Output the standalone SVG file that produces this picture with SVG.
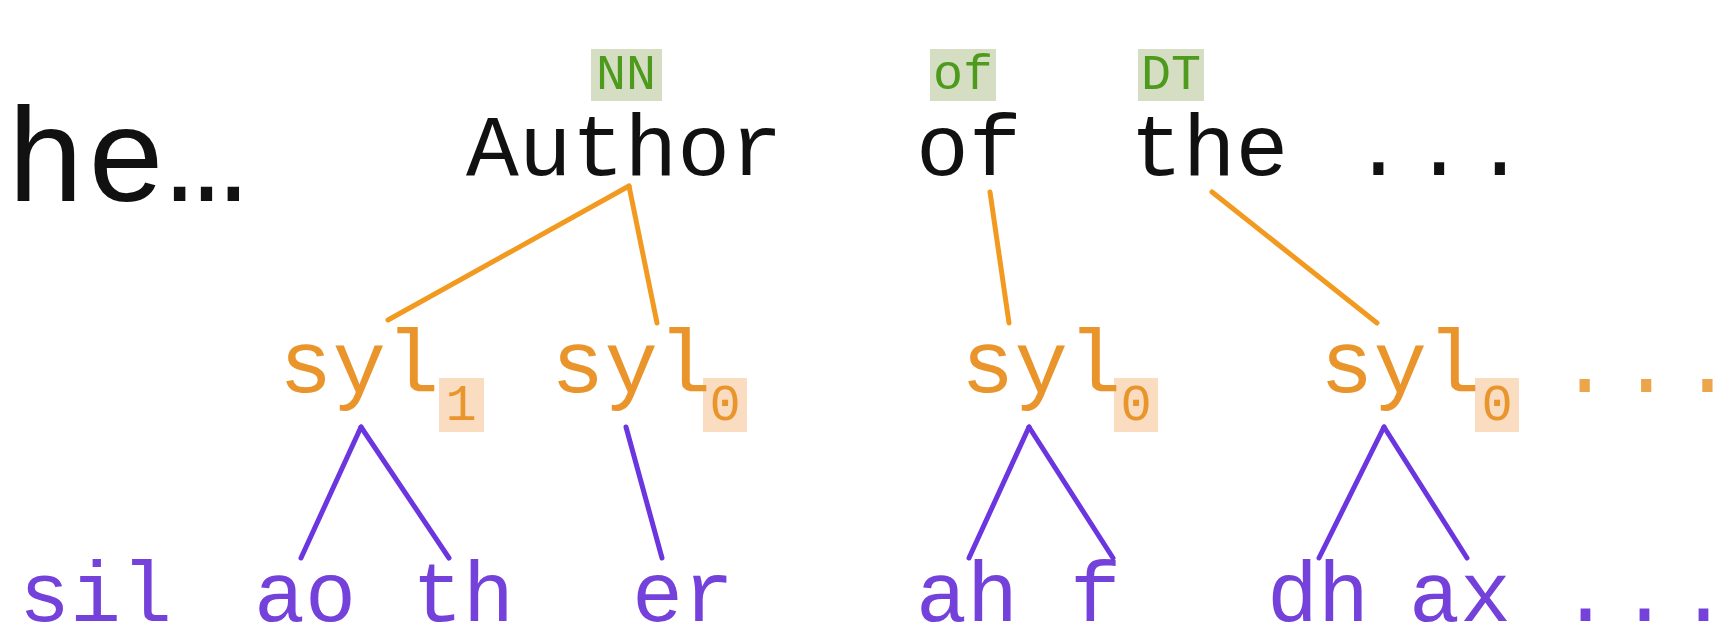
<svg xmlns="http://www.w3.org/2000/svg" width="1716" height="632" viewBox="0 0 1716 632">
  <style>
    .mono { font-family: "Liberation Mono", "DejaVu Sans Mono", monospace; }
    .word { font-size: 88px; fill: #111111; }
    .tag { font-size: 50px; fill: #4E9A1C; text-anchor: middle; }
    .tagbox { fill: #D5DEC2; }
    .syl { font-size: 89px; fill: #E9952C; }
    .sub { font-size: 52px; fill: #E9952C; text-anchor: middle; }
    .subbox { fill: #FADCC0; }
    .ph { font-size: 85px; fill: #7441DA; }
    .dots { letter-spacing: 8px; }
    .orange { stroke: #F29A1F; stroke-width: 5; stroke-linecap: round; fill: none; }
    .purple { stroke: #6B35E0; stroke-width: 5; stroke-linecap: round; fill: none; }
  </style>
  <rect width="1716" height="632" fill="#FFFFFF"/>

  <!-- large running text, clipped at the left edge -->
  <text id="caption" class="mono" x="-75" y="201" font-size="134" fill="#111111">the…</text>

  <!-- word level with tags -->
  <g id="word-author">
    <rect class="tagbox" x="591" y="49" width="71" height="52"/>
    <text class="mono tag" x="626" y="89">NN</text>
    <text class="mono word" x="466" y="175">Author</text>
  </g>
  <g id="word-of">
    <rect class="tagbox" x="930" y="49" width="66" height="52"/>
    <text class="mono tag" x="963" y="89">of</text>
    <text class="mono word" x="916" y="175">of</text>
  </g>
  <g id="word-the">
    <rect class="tagbox" x="1138" y="49" width="66" height="52"/>
    <text class="mono tag" x="1171" y="89">DT</text>
    <text class="mono word" x="1130" y="175">the</text>
  </g>
  <g id="word-more">
    <text class="mono word dots" x="1352" y="175">...</text>
  </g>

  <!-- syllable level -->
  <g id="syl-1">
    <rect class="subbox" x="439" y="378" width="45" height="54"/>
    <text class="mono syl" x="279" y="392">syl</text>
    <text class="mono sub" x="461" y="420">1</text>
  </g>
  <g id="syl-2">
    <rect class="subbox" x="703" y="378" width="44" height="54"/>
    <text class="mono syl" x="551" y="392">syl</text>
    <text class="mono sub" x="725" y="420">0</text>
  </g>
  <g id="syl-3">
    <rect class="subbox" x="1114" y="378" width="44" height="54"/>
    <text class="mono syl" x="961" y="392">syl</text>
    <text class="mono sub" x="1136" y="420">0</text>
  </g>
  <g id="syl-4">
    <rect class="subbox" x="1475" y="378" width="44" height="54"/>
    <text class="mono syl" x="1320" y="392">syl</text>
    <text class="mono sub" x="1497" y="420">0</text>
  </g>
  <g id="syl-more">
    <text class="mono syl dots" x="1558" y="392" fill-opacity="0.85">...</text>
  </g>

  <!-- phone level -->
  <g id="ph-sil"><text class="mono ph" x="19" y="621">sil</text></g>
  <g id="ph-ao"><text class="mono ph" x="254" y="621">ao</text></g>
  <g id="ph-th"><text class="mono ph" x="412" y="621">th</text></g>
  <g id="ph-er"><text class="mono ph" x="632" y="621">er</text></g>
  <g id="ph-ah"><text class="mono ph" x="916" y="621">ah</text></g>
  <g id="ph-f"><text class="mono ph" x="1070" y="621">f</text></g>
  <g id="ph-dh"><text class="mono ph" x="1267" y="621">dh</text></g>
  <g id="ph-ax"><text class="mono ph" x="1409" y="621">ax</text></g>
  <g id="ph-more"><text class="mono ph dots" x="1560" y="621">...</text></g>

  <!-- connectors -->
  <g id="connectors">
    <line class="orange" x1="629" y1="186" x2="388" y2="320"/>
    <line class="orange" x1="629" y1="186" x2="657" y2="323"/>
    <line class="orange" x1="990" y1="192" x2="1009" y2="323"/>
    <line class="orange" x1="1212" y1="192" x2="1377" y2="323"/>

    <line class="purple" x1="361" y1="427" x2="301" y2="558"/>
    <line class="purple" x1="361" y1="427" x2="449" y2="558"/>
    <line class="purple" x1="626" y1="427" x2="662" y2="558"/>
    <line class="purple" x1="1029" y1="427" x2="969" y2="558"/>
    <line class="purple" x1="1029" y1="427" x2="1113" y2="558"/>
    <line class="purple" x1="1384" y1="427" x2="1319" y2="558"/>
    <line class="purple" x1="1384" y1="427" x2="1467" y2="558"/>
  </g>
</svg>
